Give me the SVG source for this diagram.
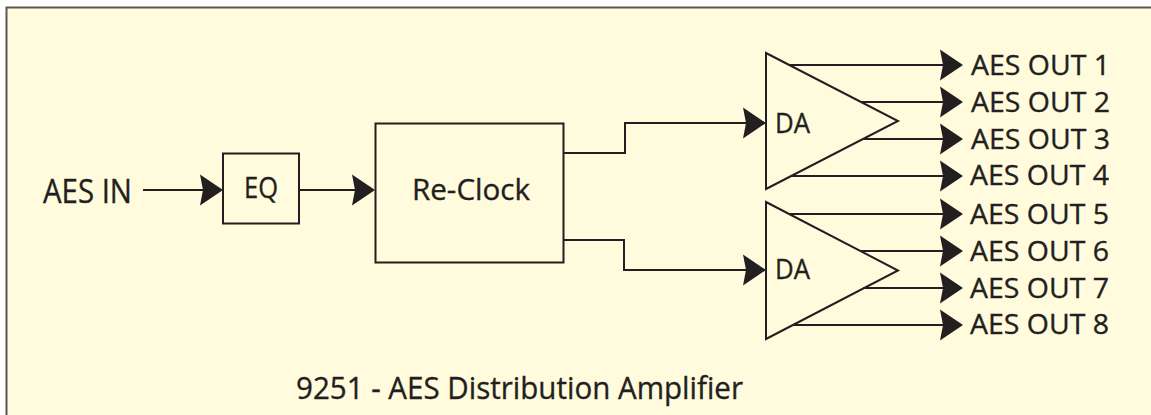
<svg xmlns="http://www.w3.org/2000/svg" width="1151" height="415" viewBox="0 0 1151 415">
  <style>
    .txt { font-family: "Open Sans", "Liberation Sans", sans-serif; fill: #231F20; stroke: #231F20; stroke-width: 0.35; }
    .box { fill: none; stroke: #231F20; stroke-width: 2; }
    .wire { fill: none; stroke: #231F20; stroke-width: 2; }
    .out { font-size: 28px; }
  </style>
  <defs>
    <marker id="arrow" markerUnits="userSpaceOnUse" markerWidth="24" markerHeight="32" refX="14" refY="15.5" orient="auto" overflow="visible">
      <path d="M0,0 L23,15.5 L0,31 L3,15.5 Z" fill="#231F20"/>
    </marker>
  </defs>

  <rect x="0" y="0" width="1151" height="415" fill="#FFFFFF"/>
  <rect x="6" y="7" width="1145" height="408" fill="#FFFBDC"/>
  <path d="M6.5,415 V7.5 H1151" fill="none" stroke="#5A5857" stroke-width="2"/>

  <g id="connectors">
    <path class="wire" d="M143,190 H214" marker-end="url(#arrow)"/>
    <path class="wire" d="M299,190 H366" marker-end="url(#arrow)"/>
    <path class="wire" d="M563,153 H625 V123 H757" marker-end="url(#arrow)"/>
    <path class="wire" d="M563,240 H624 V270 H757" marker-end="url(#arrow)"/>
    <path class="wire" d="M789,65 H954" marker-end="url(#arrow)"/>
    <path class="wire" d="M861,102 H954" marker-end="url(#arrow)"/>
    <path class="wire" d="M863,139 H954" marker-end="url(#arrow)"/>
    <path class="wire" d="M791,176 H954" marker-end="url(#arrow)"/>
    <path class="wire" d="M789,214 H954" marker-end="url(#arrow)"/>
    <path class="wire" d="M861,251 H954" marker-end="url(#arrow)"/>
    <path class="wire" d="M863,288 H954" marker-end="url(#arrow)"/>
    <path class="wire" d="M793,325 H954" marker-end="url(#arrow)"/>
  </g>

  <g id="aes-in">
    <text class="txt" x="43" y="203" font-size="33" textLength="89" lengthAdjust="spacingAndGlyphs">AES IN</text>
  </g>

  <g id="eq">
    <rect class="box" x="223" y="153.5" width="76" height="70"/>
    <text class="txt" x="244" y="198" font-size="29" textLength="34" lengthAdjust="spacingAndGlyphs">EQ</text>
  </g>

  <g id="reclock">
    <rect class="box" x="375.5" y="123.5" width="188" height="139"/>
    <text class="txt" x="412" y="200" font-size="30" textLength="118" lengthAdjust="spacingAndGlyphs">Re-Clock</text>
  </g>

  <g id="da1">
    <path class="box" d="M766,53 L898,121 L766,189 Z"/>
    <text class="txt" x="775" y="133" font-size="27" textLength="35" lengthAdjust="spacingAndGlyphs">DA</text>
  </g>

  <g id="da2">
    <path class="box" d="M766,202 L898,270.5 L766,339 Z"/>
    <text class="txt" x="775" y="278.5" font-size="27" textLength="35" lengthAdjust="spacingAndGlyphs">DA</text>
  </g>

  <g id="outputs">
    <text class="txt out" x="971" y="74.5" textLength="139" lengthAdjust="spacingAndGlyphs">AES OUT 1</text>
    <text class="txt out" x="971" y="111.5" textLength="139" lengthAdjust="spacingAndGlyphs">AES OUT 2</text>
    <text class="txt out" x="971" y="148.5" textLength="139" lengthAdjust="spacingAndGlyphs">AES OUT 3</text>
    <text class="txt out" x="970" y="185" textLength="139" lengthAdjust="spacingAndGlyphs">AES OUT 4</text>
    <text class="txt out" x="970" y="223.5" textLength="139" lengthAdjust="spacingAndGlyphs">AES OUT 5</text>
    <text class="txt out" x="970" y="260.5" textLength="139" lengthAdjust="spacingAndGlyphs">AES OUT 6</text>
    <text class="txt out" x="970" y="297.5" textLength="139" lengthAdjust="spacingAndGlyphs">AES OUT 7</text>
    <text class="txt out" x="970" y="334" textLength="139" lengthAdjust="spacingAndGlyphs">AES OUT 8</text>
  </g>

  <g id="title">
    <text class="txt" x="296" y="399" font-size="31.5" textLength="447" lengthAdjust="spacingAndGlyphs">9251 - AES Distribution Amplifier</text>
  </g>
</svg>
